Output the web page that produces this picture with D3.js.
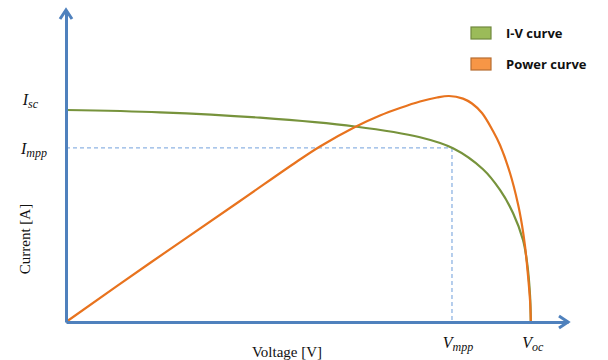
<!DOCTYPE html>
<html>
<head>
<meta charset="utf-8">
<script src="https://cdn.jsdelivr.net/npm/d3@7/dist/d3.min.js"></script>
<style>
  html, body { margin: 0; padding: 0; background: #fff; }
  svg { display: block; }
</style>
</head>
<body>
<div id="chart"></div>
<script>
// Solar cell characteristic: I-V curve and P-V (power) curve
const voltage = [0, 5.056, 10.434, 15.544, 19.04, 20.815, 22.428, 23.342, 24.042, 24.58, 24.795, 24.957, 25];
const current = [6.795, 6.721, 6.548, 6.266, 5.92, 5.567, 4.894, 4.231, 3.494, 2.628, 1.923, 0.866, 0];

const powerVoltage = [0, 4.518, 9.358, 12.424, 13.661, 15.544, 16.888, 17.964, 19.04, 19.954, 20.6, 21.352,
  21.836, 22.374, 22.966, 23.342, 23.88, 24.31, 24.525, 24.687, 24.795, 24.956, 25];
const power = [0, 30.41, 62.36, 82.72, 90.45, 100.5, 106.43, 110.29, 113.64, 115.7, 116.48, 115.14,
  112.61, 107.71, 98.44, 91.22, 76.79, 60.82, 49.99, 39.17, 29.38, 11.34, 0];

const Isc = 6.795, Impp = 5.58, Vmpp = 20.76, Voc = 25;

const legendNames = ["I-V curve", "Power curve"];
const legendFill = ["#9BBB59", "#F79646"];
const legendStroke = ["#71893F", "#B66D31"];

const W = 608, H = 360;
const svg = d3.select("#chart").append("svg").attr("width", W).attr("height", H);

const x = d3.scaleLinear().domain([0, 27]).range([66, 568]);
const y = d3.scaleLinear().domain([0, 10]).range([322, 10]);
const yP = d3.scaleLinear().domain([0, 160.8]).range([322, 10]);

const axisColor = "#4F81BD";

// dashed guides at the maximum power point
const guide = svg.append("g").attr("stroke", "#8EB4E3").attr("stroke-width", 1.3)
  .attr("stroke-dasharray", "4,3").attr("fill", "none");
guide.append("line").attr("x1", x(0)).attr("x2", x(Vmpp)).attr("y1", y(Impp)).attr("y2", y(Impp));
guide.append("line").attr("x1", x(Vmpp)).attr("x2", x(Vmpp)).attr("y1", y(Impp)).attr("y2", y(0));

// curves
const smooth = d3.curveCatmullRom.alpha(0.5);
const ivLine = d3.line().x((d, i) => x(voltage[i])).y(d => y(d)).curve(smooth);
svg.append("path").datum(current).attr("d", ivLine)
  .attr("fill", "none").attr("stroke", "#77933C").attr("stroke-width", 2.2);

const pLine = d3.line().x((d, i) => x(powerVoltage[i])).y(d => yP(d)).curve(smooth);
svg.append("path").datum(power).attr("d", pLine)
  .attr("fill", "none").attr("stroke", "#E8731E").attr("stroke-width", 2.2);

// axes without ticks, ending in open arrowheads
const xAxis = svg.append("g").attr("transform", `translate(0,${y(0)})`)
  .call(d3.axisBottom(x).tickValues([]).tickSizeOuter(0));
const yAxis = svg.append("g").attr("transform", `translate(${x(0)},0)`)
  .call(d3.axisLeft(y).tickValues([]).tickSizeOuter(0));
[xAxis, yAxis].forEach(g => g.select(".domain").attr("stroke", axisColor).attr("stroke-width", 3));

const arrow = svg.append("g").attr("fill", "none").attr("stroke", axisColor)
  .attr("stroke-width", 3).attr("stroke-linejoin", "miter").attr("stroke-linecap", "butt");
const xe = x.range()[1], ye = y(0);
arrow.append("path").attr("d", `M${xe - 9},${ye - 6}L${xe},${ye}L${xe - 9},${ye + 6}`);
const ytop = y.range()[1], yx = x(0);
arrow.append("path").attr("d", `M${yx - 6},${ytop + 9}L${yx},${ytop}L${yx + 6},${ytop + 9}`);

// axis titles
const serif = "'Liberation Serif', 'DejaVu Serif', serif";
svg.append("text").attr("x", 287).attr("y", 357).attr("text-anchor", "middle")
  .attr("font-family", serif).attr("font-size", 15).attr("fill", "#111").text("Voltage [V]");
svg.append("text").attr("transform", "translate(30,239) rotate(-90)").attr("text-anchor", "middle")
  .attr("font-family", serif).attr("font-size", 15).attr("fill", "#111").text("Current [A]");

// symbol labels with subscripts
function symbol(px, py, main, sub, anchor) {
  const t = svg.append("text").attr("x", px).attr("y", py).attr("text-anchor", anchor)
    .attr("font-family", serif).attr("font-style", "italic").attr("fill", "#111").attr("font-size", 16);
  t.append("tspan").text(main);
  t.append("tspan").attr("font-size", 12).attr("dy", 3).text(sub);
  return t;
}
symbol(x(0) - 28, y(Isc) - 5, "I", "sc", "end");
symbol(x(0) - 19, y(Impp) + 6, "I", "mpp", "end");
symbol(x(Vmpp) + 6, 348, "V", "mpp", "middle");
symbol(x(Voc) + 2, 348, "V", "oc", "middle");

// legend
const legend = svg.append("g");
legendNames.forEach((name, i) => {
  const gy = 27 + i * 31;
  legend.append("rect").attr("x", 471).attr("y", gy).attr("width", 20).attr("height", 12)
    .attr("fill", legendFill[i]).attr("stroke", legendStroke[i]).attr("stroke-width", 1.2);
  legend.append("text").attr("x", 506).attr("y", gy + 11)
    .attr("font-family", "'Open Sans', 'Liberation Sans', sans-serif").attr("font-weight", "bold")
    .attr("font-size", 13).attr("fill", "#111").text(name);
});
</script>
</body>
</html>
